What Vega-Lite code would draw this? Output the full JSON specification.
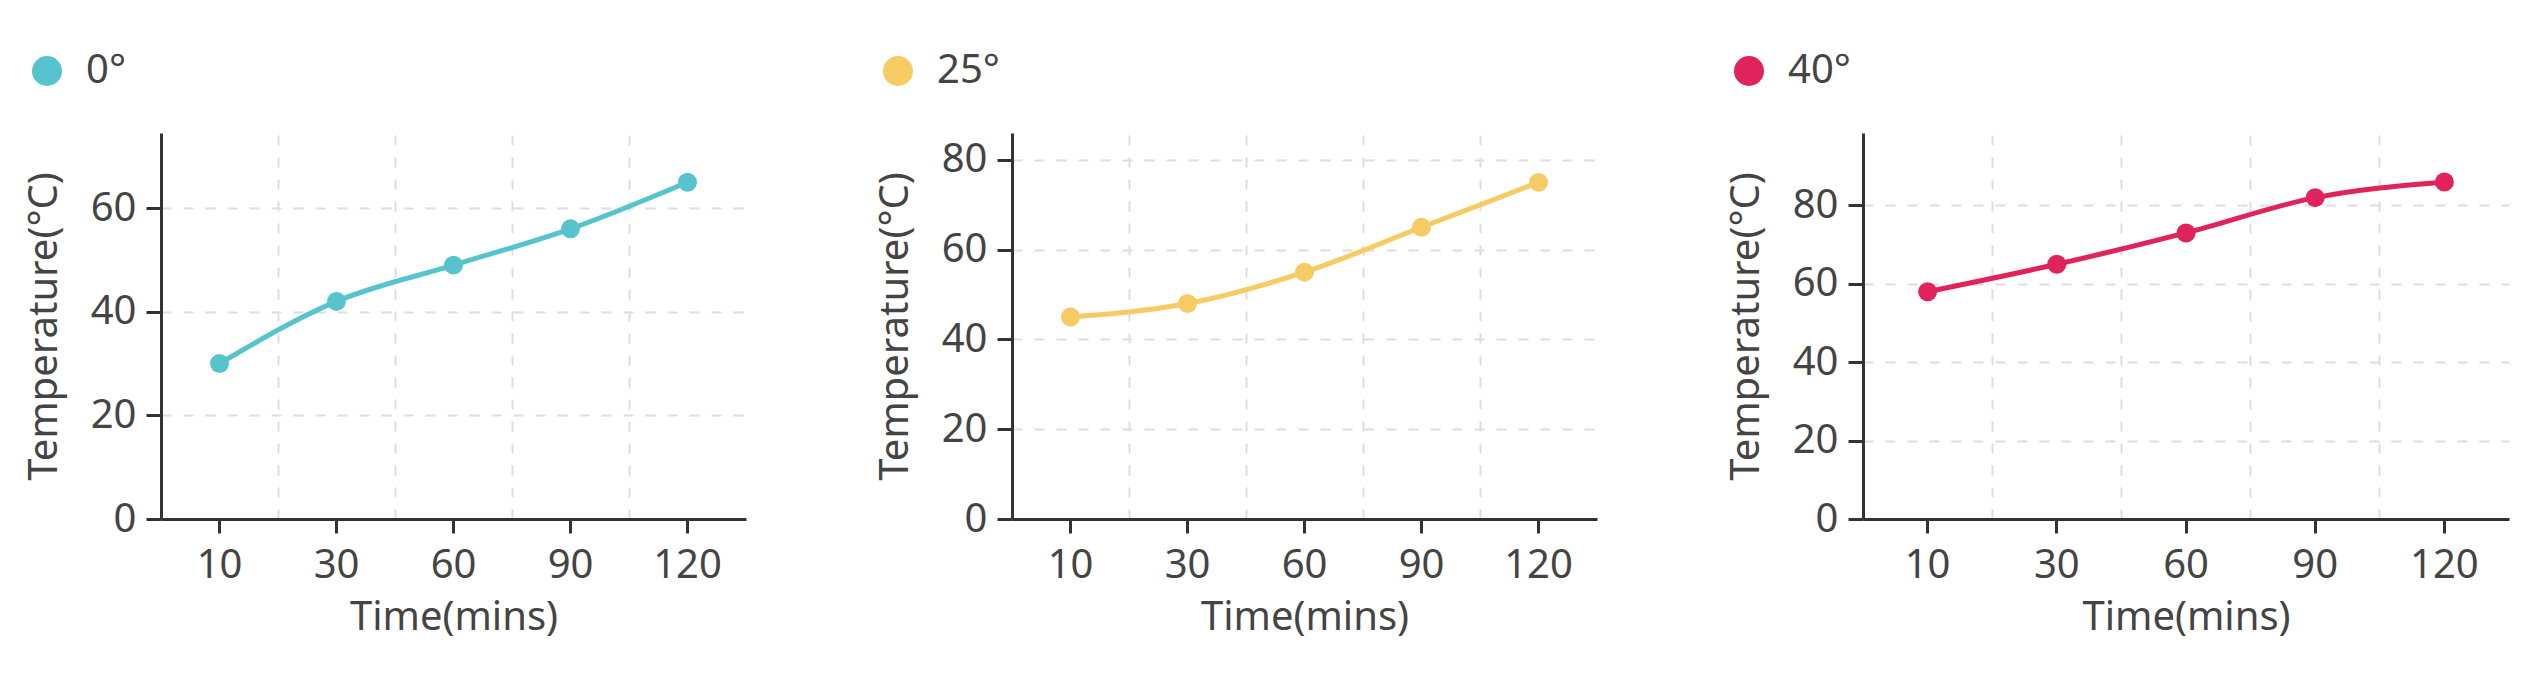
{
  "$schema": "https://vega.github.io/schema/vega-lite/v6.json",
  "background": "white",
  "padding": {"left": 24, "top": 51, "right": 10, "bottom": 10},
  "spacing": 129,
  "data": {"values": [
    {"series": "0°", "time": 10, "temp": 30},
    {"series": "0°", "time": 30, "temp": 42},
    {"series": "0°", "time": 60, "temp": 49},
    {"series": "0°", "time": 90, "temp": 56},
    {"series": "0°", "time": 120, "temp": 65},
    {"series": "25°", "time": 10, "temp": 45},
    {"series": "25°", "time": 30, "temp": 48},
    {"series": "25°", "time": 60, "temp": 55},
    {"series": "25°", "time": 90, "temp": 65},
    {"series": "25°", "time": 120, "temp": 75},
    {"series": "40°", "time": 10, "temp": 58},
    {"series": "40°", "time": 30, "temp": 65},
    {"series": "40°", "time": 60, "temp": 73},
    {"series": "40°", "time": 90, "temp": 82},
    {"series": "40°", "time": 120, "temp": 86}
  ]},
  "resolve": {"scale": {"color": "independent"}, "legend": {"color": "independent"}},
  "hconcat": [
    {
      "width": 585, "height": 386,
      "transform": [{"filter": "datum.series === '0°'"}],
      "layer": [
        {
          "mark": {"type": "line", "interpolate": "monotone", "strokeWidth": 5, "color": "#57C3CC"},
          "encoding": {
            "x": {"field": "time", "type": "ordinal", "scale": {"type": "band", "paddingInner": 0, "paddingOuter": 0}, "axis": {"bandPosition": 0.5, "grid": false, "title": "Time(mins)"}},
            "y": {"field": "temp", "type": "quantitative", "scale": {"domain": [0, 74.5], "nice": false}, "axis": {"title": "Temperature(°C)", "values": [0, 20, 40, 60]}}
          }
        },
        {
          "mark": {"type": "point", "filled": true, "size": 360, "opacity": 1},
          "encoding": {
            "x": {"field": "time", "type": "ordinal", "scale": {"type": "band", "paddingInner": 0, "paddingOuter": 0}, "axis": {"orient": "top", "bandPosition": 0, "grid": true, "labels": false, "ticks": false, "domain": false, "title": null}},
            "y": {"field": "temp", "type": "quantitative", "axis": {"title": "Temperature(°C)", "values": [0, 20, 40, 60]}},
            "color": {"field": "series", "type": "nominal", "scale": {"domain": ["0°"], "range": ["#57C3CC"]}}
          }
        }
      ],
      "resolve": {"axis": {"x": "independent"}}
    },
    {
      "width": 585, "height": 386,
      "transform": [{"filter": "datum.series === '25°'"}],
      "layer": [
        {
          "mark": {"type": "line", "interpolate": "monotone", "strokeWidth": 5, "color": "#F7CB63"},
          "encoding": {
            "x": {"field": "time", "type": "ordinal", "scale": {"type": "band", "paddingInner": 0, "paddingOuter": 0}, "axis": {"bandPosition": 0.5, "grid": false, "title": "Time(mins)"}},
            "y": {"field": "temp", "type": "quantitative", "scale": {"domain": [0, 86], "nice": false}, "axis": {"title": "Temperature(°C)", "values": [0, 20, 40, 60, 80]}}
          }
        },
        {
          "mark": {"type": "point", "filled": true, "size": 360, "opacity": 1},
          "encoding": {
            "x": {"field": "time", "type": "ordinal", "scale": {"type": "band", "paddingInner": 0, "paddingOuter": 0}, "axis": {"orient": "top", "bandPosition": 0, "grid": true, "labels": false, "ticks": false, "domain": false, "title": null}},
            "y": {"field": "temp", "type": "quantitative", "axis": {"title": "Temperature(°C)", "values": [0, 20, 40, 60, 80]}},
            "color": {"field": "series", "type": "nominal", "scale": {"domain": ["25°"], "range": ["#F7CB63"]}}
          }
        }
      ],
      "resolve": {"axis": {"x": "independent"}}
    },
    {
      "width": 646, "height": 386,
      "transform": [{"filter": "datum.series === '40°'"}],
      "layer": [
        {
          "mark": {"type": "line", "interpolate": "monotone", "strokeWidth": 5, "color": "#E0235A"},
          "encoding": {
            "x": {"field": "time", "type": "ordinal", "scale": {"type": "band", "paddingInner": 0, "paddingOuter": 0}, "axis": {"bandPosition": 0.5, "grid": false, "title": "Time(mins)"}},
            "y": {"field": "temp", "type": "quantitative", "scale": {"domain": [0, 98.5], "nice": false}, "axis": {"title": "Temperature(°C)", "values": [0, 20, 40, 60, 80]}}
          }
        },
        {
          "mark": {"type": "point", "filled": true, "size": 360, "opacity": 1},
          "encoding": {
            "x": {"field": "time", "type": "ordinal", "scale": {"type": "band", "paddingInner": 0, "paddingOuter": 0}, "axis": {"orient": "top", "bandPosition": 0, "grid": true, "labels": false, "ticks": false, "domain": false, "title": null}},
            "y": {"field": "temp", "type": "quantitative", "axis": {"title": "Temperature(°C)", "values": [0, 20, 40, 60, 80]}},
            "color": {"field": "series", "type": "nominal", "scale": {"domain": ["40°"], "range": ["#E0235A"]}}
          }
        }
      ],
      "resolve": {"axis": {"x": "independent"}}
    }
  ],
  "config": {
    "view": {"stroke": null},
    "font": "Noto Sans",
    "axis": {
      "labelFont": "Noto Sans", "labelFontSize": 40, "labelColor": "#444444",
      "titleFont": "Noto Sans", "titleFontSize": 40, "titleFontWeight": "normal", "titleColor": "#444444",
      "domainColor": "#333333", "domainWidth": 3,
      "tickColor": "#333333", "tickWidth": 3, "tickSize": 14,
      "gridColor": "#DEDEDE", "gridWidth": 2, "gridDash": [10, 12],
      "labelPadding": 10
    },
    "axisX": {"labelAngle": 0, "labelPadding": 12, "titlePadding": 12},
    "axisY": {"grid": true, "tickSize": 15, "titlePadding": 26},
    "legend": {
      "orient": "none", "legendX": -134, "legendY": -82,
      "title": null, "symbolType": "circle", "symbolSize": 900, "symbolStrokeWidth": 0,
      "labelFont": "Noto Sans", "labelFontSize": 40, "labelColor": "#444444", "labelOffset": 19
    }
  }
}
